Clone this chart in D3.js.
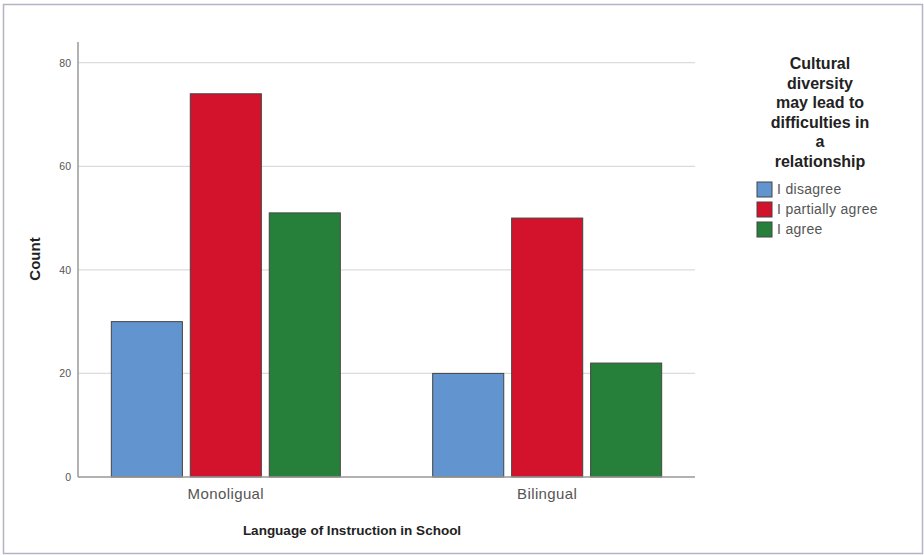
<!DOCTYPE html>
<html>
<head>
<meta charset="utf-8">
<script src="https://cdn.jsdelivr.net/npm/d3@7"></script>
<style>
  body { margin: 0; background: #fff; }
  text { font-family: "Liberation Sans", Arial, sans-serif; }
</style>
</head>
<body>
<div id="chart"></div>
<script>
// data
const categories = ['Monoligual', 'Bilingual']
const seriesNames = ['I disagree', 'I partially agree', 'I agree']
const disagree = [30, 20]
const partiallyAgree = [74, 50]
const agree = [51, 22]
const yTicks = [0, 20, 40, 60, 80]
const legendTitle = ['Cultural', 'diversity', 'may lead to', 'difficulties in', 'a', 'relationship']
const colors = ['#6294cf', '#d3132b', '#27803a']

const W = 924, H = 555
const plot = {left: 78, right: 695, top: 42, bottom: 477}

const svg = d3.select('#chart').append('svg')
    .attr('width', W)
    .attr('height', H)

// outer frame
svg.append('rect')
    .attr('x', 3.5).attr('y', 4.5)
    .attr('width', 919).attr('height', 549)
    .attr('fill', '#fff')
    .attr('stroke', '#b4b4c4')
    .attr('stroke-width', 1.5)

const y = d3.scaleLinear().domain([0, 84]).range([plot.bottom, plot.top])
const x0 = d3.scalePoint().domain(categories).range([plot.left, plot.right]).padding(0.46)
const x1 = d3.scaleBand().domain(seriesNames).range([-114.5, 114.5]).paddingInner(0.1)

// gridlines
svg.append('g').selectAll('line')
    .data(yTicks.filter(d => d > 0))
    .join('line')
    .attr('x1', plot.left).attr('x2', plot.right)
    .attr('y1', d => y(d)).attr('y2', d => y(d))
    .attr('stroke', '#dcdcdc')
    .attr('stroke-width', 1.2)

// y axis
const yAxis = svg.append('g')
    .attr('transform', 'translate(' + plot.left + ',0)')
    .call(d3.axisLeft(y).tickValues(yTicks).tickSize(0).tickPadding(7))
yAxis.select('.domain').remove()
yAxis.selectAll('text').attr('fill', '#555').style('font-size', '10.5px')

svg.append('line')
    .attr('x1', plot.left).attr('x2', plot.left)
    .attr('y1', plot.top).attr('y2', plot.bottom)
    .attr('stroke', '#999').attr('stroke-width', 1.5)

// bars
const rows = categories.map((c, i) => ({
    cat: c,
    vals: [disagree[i], partiallyAgree[i], agree[i]]
}))

const groups = svg.append('g').selectAll('g')
    .data(rows)
    .join('g')
    .attr('transform', d => 'translate(' + x0(d.cat) + ',0)')

groups.selectAll('rect')
    .data(d => d.vals.map((v, j) => ({name: seriesNames[j], v: v, j: j})))
    .join('rect')
    .attr('x', d => x1(d.name))
    .attr('width', x1.bandwidth())
    .attr('y', d => y(d.v))
    .attr('height', d => y(0) - y(d.v))
    .attr('fill', d => colors[d.j])
    .attr('stroke', '#444')
    .attr('stroke-width', 1)

// x axis
svg.append('line')
    .attr('x1', plot.left).attr('x2', plot.right)
    .attr('y1', plot.bottom).attr('y2', plot.bottom)
    .attr('stroke', '#999').attr('stroke-width', 1.5)

svg.append('g').selectAll('text')
    .data(categories)
    .join('text')
    .attr('x', d => x0(d))
    .attr('y', 499)
    .attr('text-anchor', 'middle')
    .attr('fill', '#555')
    .style('font-size', '15px')
    .style('letter-spacing', '0.4px')
    .text(d => d)

// axis titles
svg.append('text')
    .attr('x', 352).attr('y', 535)
    .attr('text-anchor', 'middle')
    .attr('fill', '#222')
    .style('font-size', '13.5px').style('font-weight', 'bold')
    .text('Language of Instruction in School')

svg.append('text')
    .attr('transform', 'translate(40,259) rotate(-90)')
    .attr('text-anchor', 'middle')
    .attr('fill', '#222')
    .style('font-size', '15px').style('font-weight', 'bold')
    .text('Count')

// legend
svg.append('g').selectAll('text')
    .data(legendTitle)
    .join('text')
    .attr('x', 820)
    .attr('y', (d, i) => 69 + i * 19.6)
    .attr('text-anchor', 'middle')
    .attr('fill', '#222')
    .style('font-size', '16px').style('font-weight', 'bold')
    .text(d => d)

const items = svg.append('g').selectAll('g')
    .data(seriesNames)
    .join('g')
    .attr('transform', (d, i) => 'translate(757,' + (182 + i * 20) + ')')

items.append('rect')
    .attr('width', 15).attr('height', 15)
    .attr('fill', (d, i) => colors[i])
    .attr('stroke', '#444')

items.append('text')
    .attr('x', 20).attr('y', 12)
    .attr('fill', '#555')
    .style('font-size', '14px')
    .style('letter-spacing', '0.3px')
    .text(d => d)
</script>
</body>
</html>
